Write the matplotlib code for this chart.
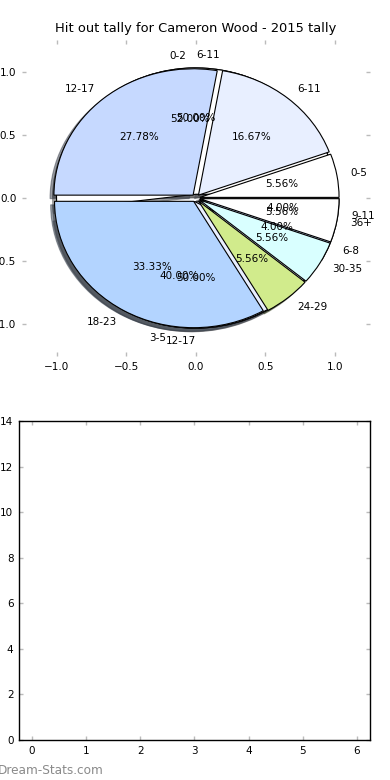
import numpy as np
import matplotlib
matplotlib.use("Agg")
import matplotlib.pyplot as plt

# hit out tally bins, three overlaid pies (drawn bottom to top)
labels_c = ['6-11', '12-17']
counts_c = [1, 1]

labels_b = ['0-2', '3-5', '6-8', '9-11']
counts_b = [13, 10, 1, 1]

labels_a = ['0-5', '6-11', '12-17', '18-23', '24-29', '30-35', '36+']
counts_a = [1, 3, 5, 6, 1, 1, 1]

palette = ['#ffffff', '#e8efff', '#c6d9ff', '#b3d4ff', '#d1eb8c', '#d9ffff']

bar_x = [0, 1, 2, 3, 4, 5, 6]
bar_h = [0, 0, 0, 0, 0, 0, 0]

fig = plt.figure(figsize=(3.9, 7.8), dpi=100)
ax = fig.add_axes([0.056, 0.5436, 0.892, 0.405])

fs = 7.5
for lab, cnt in [(labels_c, counts_c), (labels_b, counts_b), (labels_a, counts_a)]:
    cols = [palette[i % len(palette)] for i in range(len(cnt))]
    wedges, texts, autotexts = ax.pie(
        cnt, labels=lab, colors=cols, explode=[0.03] * len(cnt),
        autopct='%1.2f%%', shadow=True,
        wedgeprops={'edgecolor': 'black', 'linewidth': 0.8},
        textprops={'fontsize': fs})
    # old-style alignment: left on the right half (incl. exactly top), right otherwise
    for w, t in zip(wedges, texts):
        mid = 0.5 * (w.theta1 + w.theta2) % 360
        t.set_ha('left' if (mid <= 90 or mid > 270) else 'right')

ax.set_aspect('auto')
ax.set_xlim(-1.25, 1.25)
ax.set_ylim(-1.25, 1.25)
ax.set_frame_on(False)
ticks = [-1.0, -0.5, 0.0, 0.5, 1.0]
ax.set_xticks(ticks)
ax.set_yticks(ticks)
ax.tick_params(direction='in', top=True, right=True, length=3, width=1,
               color='#bbbbbb', labelsize=fs, pad=4)
ax.set_title('Hit out tally for Cameron Wood - 2015 tally', fontsize=9.4, pad=6)

ax2 = fig.add_axes([0.0487, 0.0513, 0.9, 0.409])
ax2.bar(bar_x, bar_h, width=0.48)
ax2.set_xlim(-0.24, 6.24)
ax2.set_ylim(0, 14)
ax2.set_xticks(bar_x)
ax2.set_yticks(np.arange(0, 15, 2))
ax2.tick_params(direction='in', top=True, right=True, length=3, width=1,
                color='#bbbbbb', labelsize=fs, pad=4)
for sp in ax2.spines.values():
    sp.set_linewidth(1)

fig.text(-0.005, 0.004, 'Dream-Stats.com', color='#8a8a8a', fontsize=8.7,
         ha='left', va='bottom')

fig.savefig('out.png', dpi=100)
